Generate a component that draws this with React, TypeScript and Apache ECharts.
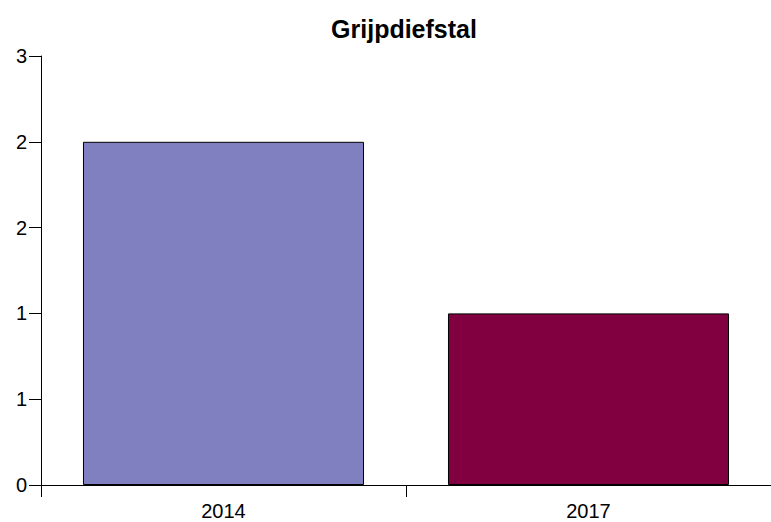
import React, { useEffect, useRef } from "react";
import * as echarts from "echarts";

const categories = ["2014", "2017"];
const values = [2, 1];
const barColors = ["#8080C0", "#800040"];
const titleText = "Grijpdiefstal";

export default function App() {
  const ref = useRef<HTMLDivElement>(null);
  useEffect(() => {
    const chart = echarts.init(ref.current!, null, { renderer: "svg" });
    chart.setOption({
      animation: false,
      backgroundColor: "#ffffff",
      graphic: [
        {
          type: "text",
          x: 404,
          y: 29,
          style: {
            text: titleText,
            fontFamily: "Liberation Sans, Arial, sans-serif",
            fontWeight: "bold",
            fontSize: 25,
            fill: "#000",
            textAlign: "center",
            textVerticalAlign: "middle",
          },
        },
      ],
      grid: { left: 41, right: 0, top: 56, bottom: 37, containLabel: false },
      xAxis: {
        type: "category",
        data: categories,
        axisLine: { lineStyle: { color: "#000", width: 1 } },
        axisTick: { show: true, length: 12, alignWithLabel: false, lineStyle: { color: "#000" } },
        axisLabel: {
          color: "#000",
          fontSize: 20,
          fontFamily: "Liberation Sans, Arial, sans-serif",
          margin: 16,
        },
      },
      yAxis: {
        type: "value",
        min: 0,
        max: 2.5,
        interval: 0.5,
        splitLine: { show: false },
        axisLine: { show: true, lineStyle: { color: "#000", width: 1 } },
        axisTick: { show: true, length: 12, lineStyle: { color: "#000" } },
        axisLabel: {
          color: "#000",
          fontSize: 20,
          fontFamily: "Liberation Sans, Arial, sans-serif",
          margin: 14,
          formatter: (v: number) => String(Math.round(v)),
        },
      },
      series: [
        {
          type: "bar",
          data: values.map((v, i) => ({
            value: v,
            itemStyle: { color: barColors[i], borderColor: "#000", borderWidth: 1 },
          })),
          barWidth: "77%",
        },
      ],
    });
    return () => chart.dispose();
  }, []);
  return (
    <div
      ref={ref}
      style={{ position: "absolute", left: 0, top: 0, width: 771, height: 522 }}
    />
  );
}
